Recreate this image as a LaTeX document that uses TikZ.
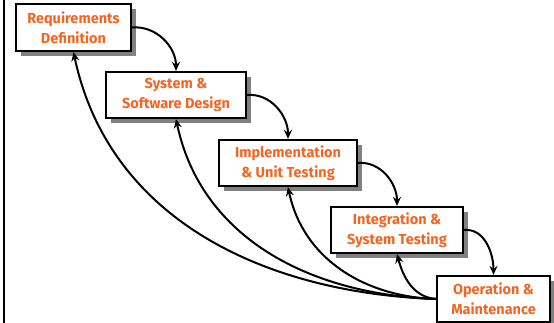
\documentclass[tikz,border=0pt]{standalone}
\usepackage{fontspec}
\setmainfont{Fira Sans}
\usetikzlibrary{arrows.meta,shadows}
\definecolor{txt}{HTML}{F26522}
\definecolor{shd}{HTML}{808080}
\begin{document}
\begin{tikzpicture}[x=1pt,y=-1pt,
  phase/.style={draw=black,line width=2.2pt,fill=white,rectangle,inner sep=0pt,
    text=txt,align=center,font=\fontsize{14.5}{20}\selectfont\bfseries,
    drop shadow={shadow xshift=5pt,shadow yshift=-5pt,fill=shd,opacity=1}},
  link/.style={line width=2pt,-{Stealth[length=9pt,width=8pt,inset=3pt]}}]
\useasboundingbox (0,0) rectangle (554,323);
\draw[line width=2.2pt] (4,0) coordinate (lt) -- (4,323) coordinate (lb);
\node[phase,minimum width=115pt,minimum height=47pt] (req) at (73.5,27.5) {Requirements\\Definition};
\node[phase,minimum width=140pt,minimum height=46pt] (sys) at (176,95) {System \&\\Software Design};
\node[phase,minimum width=138pt,minimum height=46pt] (imp) at (288,163) {Implementation\\\& Unit Testing};
\node[phase,minimum width=132pt,minimum height=46pt] (int) at (397,230) {Integration \&\\System Testing};
\node[phase,minimum width=113pt,minimum height=46pt] (op) at (493.5,299) {Operation \&\\Maintenance};
\draw[link] (req.east) to[out=5,in=90] (sys.north);
\draw[link] (sys.east) to[out=5,in=90] (imp.north);
\draw[link] (imp.east) to[out=5,in=90] (int.north);
\draw[link] (int.east) to[out=5,in=90] (op.north);
\draw[link] (op.west) to[out=178,in=-78] (req.south);
\draw[link] (op.west) to[out=178,in=-78] (sys.south);
\draw[link] (op.west) to[out=178,in=-78] (imp.south);
\draw[link] (op.west) to[out=175,in=-75] (int.south);
\end{tikzpicture}
\end{document}
